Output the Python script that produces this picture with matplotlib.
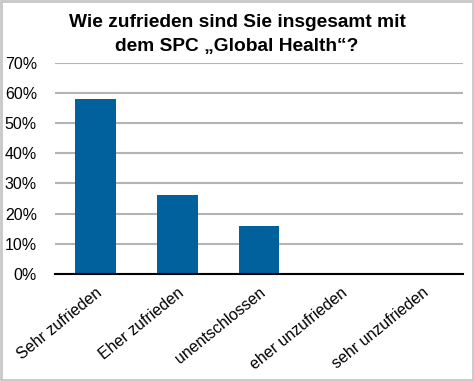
import matplotlib
matplotlib.use("Agg")
import matplotlib.pyplot as plt
from matplotlib.patches import Rectangle
from matplotlib.ticker import PercentFormatter

categories = ["Sehr zufrieden", "Eher zufrieden", "unentschlossen", "eher unzufrieden", "sehr unzufrieden"]
values = [57.9, 26.3, 15.8, 0.0, 0.0]
yticks = [0, 10, 20, 30, 40, 50, 60, 70]

plt.rcParams['font.family'] = ['Liberation Sans', 'DejaVu Sans']

fig = plt.figure(figsize=(4.74, 3.81), dpi=100)
ax = fig.add_axes([0.116, 0.281, 0.861, 0.554])

x = range(len(categories))
ax.bar(x, values, width=0.5, color="#00619d", zorder=3)

ax.set_ylim(0, 70)
ax.set_xlim(-0.5, len(categories) - 0.5)
ax.set_yticks(yticks)
ax.yaxis.set_major_formatter(PercentFormatter(decimals=0))
ax.grid(axis='y', color="#b4b4b4", linewidth=1.5, zorder=0)
ax.set_axisbelow(True)
for s in ['top', 'right', 'left']:
    ax.spines[s].set_visible(False)
ax.spines['bottom'].set_color('black')
ax.spines['bottom'].set_linewidth(1.5)
ax.spines['bottom'].set_zorder(4)
ax.tick_params(axis='y', length=0, pad=13, labelsize=11.5)
ax.tick_params(axis='x', length=0, pad=8, labelsize=11.5)
ax.set_xticks(list(x))
ax.set_xticklabels(categories, rotation=39, ha='right', rotation_mode='anchor')

fig.suptitle("Wie zufrieden sind Sie insgesamt mit\ndem SPC \u201eGlobal Health\u201c?",
             x=0.5, y=0.962, fontsize=13.8, fontweight='bold', linespacing=1.5)

fig.patches.append(Rectangle((0.002, 0.003), 0.996, 0.994, transform=fig.transFigure,
                             fill=False, edgecolor="#c8c8c8", linewidth=2))

fig.savefig("out.png", dpi=100)
